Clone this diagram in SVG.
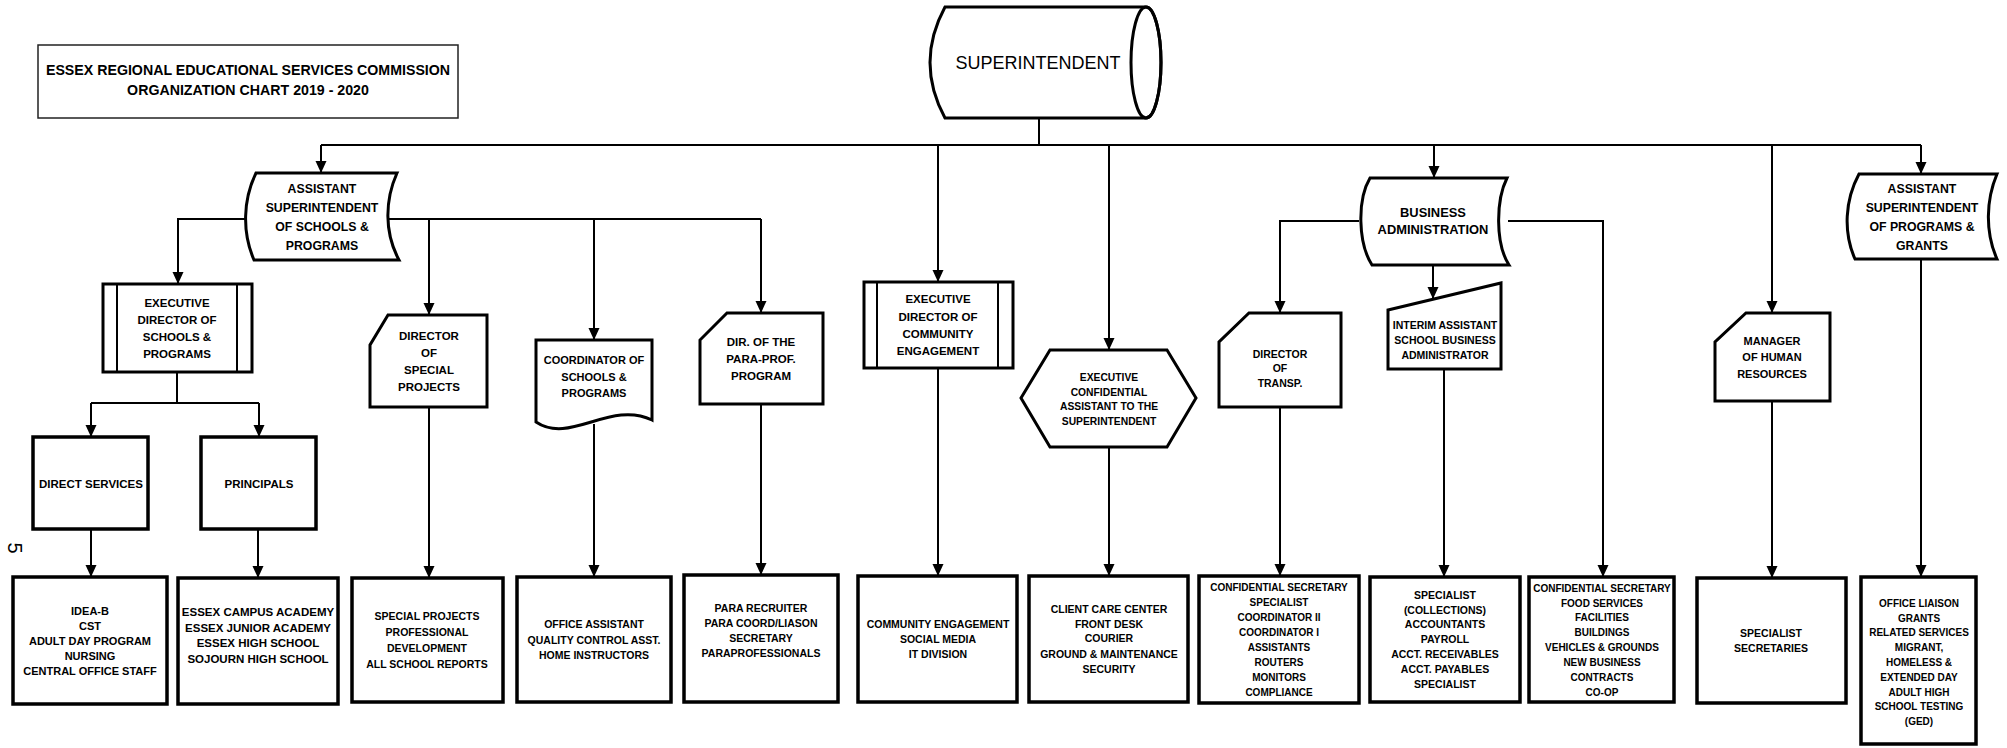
<svg xmlns="http://www.w3.org/2000/svg" width="2007" height="748" viewBox="0 0 2007 748">
<defs>
<marker id="ah" markerUnits="userSpaceOnUse" markerWidth="12" markerHeight="12" viewBox="0 0 12 12" refX="12" refY="6" orient="auto">
<path d="M0,0.5 L12,6 L0,11.5 Z" fill="#000"/>
</marker>
<style>
.bg{fill:#fff}
.box{fill:#fff;stroke:#000;stroke-width:3.5}
.shp{fill:#fff;stroke:#000;stroke-width:3}
.thin{fill:none;stroke:#000;stroke-width:2}
.conn{fill:none;stroke:#000;stroke-width:2}
.arr{marker-end:url(#ah)}
.t{font-family:"Liberation Sans",Arial,sans-serif;font-weight:bold;text-anchor:middle;fill:#000}
.s10{font-size:10px}
.s103{font-size:10.3px}
.s105{font-size:10.5px}
.s11{font-size:11px}
.s115{font-size:11.5px}
.s12{font-size:12.3px}
.s13{font-size:12.9px}
</style>
</defs>
<rect class="bg" x="0" y="0" width="2007" height="748"/>

<g id="title">
<rect x="38" y="45" width="420" height="73" fill="#fff" stroke="#222" stroke-width="1.5"/>
<text class="t" x="248" y="75" style="font-size:14.2px">ESSEX REGIONAL EDUCATIONAL SERVICES COMMISSION</text>
<text class="t" x="248" y="95" style="font-size:14.2px">ORGANIZATION CHART 2019 - 2020</text>
</g>

<g id="page-number">
<text x="14" y="548" transform="rotate(90 14 548)" style="font-family:'Liberation Sans',Arial,sans-serif;font-size:20px;text-anchor:middle" dy="6">5</text>
</g>

<g id="connectors">
<path class="conn" d="M1039,118 V145"/>
<path class="conn" d="M321,145 H1921"/>
<path class="conn arr" d="M321,145 V173"/>
<path class="conn arr" d="M938,145 V282"/>
<path class="conn arr" d="M1109,145 V350"/>
<path class="conn arr" d="M1434,145 V178"/>
<path class="conn arr" d="M1772,145 V313"/>
<path class="conn arr" d="M1921,145 V174"/>
<path class="conn arr" d="M246,219 H178 V284"/>
<path class="conn" d="M389,219 H761"/>
<path class="conn arr" d="M429,219 V315"/>
<path class="conn arr" d="M594,219 V340"/>
<path class="conn arr" d="M761,219 V313"/>
<path class="conn" d="M177,372 V403 M91,403 H259"/>
<path class="conn arr" d="M91,403 V437"/>
<path class="conn arr" d="M259,403 V437"/>
<path class="conn arr" d="M91,529 V577"/>
<path class="conn arr" d="M258,529 V578"/>
<path class="conn arr" d="M429,407 V578"/>
<path class="conn arr" d="M594,424 V577"/>
<path class="conn arr" d="M761,404 V575"/>
<path class="conn arr" d="M938,368 V576"/>
<path class="conn arr" d="M1109,447 V576"/>
<path class="conn arr" d="M1359,221 H1280 V313"/>
<path class="conn arr" d="M1508,221 H1603 V577"/>
<path class="conn arr" d="M1433,265 V299"/>
<path class="conn arr" d="M1280,407 V576"/>
<path class="conn arr" d="M1444,369 V577"/>
<path class="conn arr" d="M1772,401 V578"/>
<path class="conn arr" d="M1921,259 V577"/>
</g>

<g id="superintendent">
<path class="shp" d="M945,7 H1146 A15,55.5 0 0 1 1146,118 H945 Q915,62.5 945,7 Z"/>
<ellipse cx="1146" cy="62.5" rx="15" ry="55.5" fill="none" stroke="#000" stroke-width="3"/>
<text x="1038" y="69" style="font-family:'Liberation Sans',Arial,sans-serif;font-size:18px;text-anchor:middle">SUPERINTENDENT</text>
</g>

<g id="asst-supt-schools">
<path class="shp" d="M256,173 H397 C385,200 384,232 399,260 H254 C242,232 243,200 256,173 Z"/>
<text class="t s12" x="322" y="192.5">ASSISTANT</text>
<text class="t s12" x="322" y="211.5">SUPERINTENDENT</text>
<text class="t s12" x="322" y="230.5">OF SCHOOLS &amp;</text>
<text class="t s12" x="322" y="249.5">PROGRAMS</text>
</g>

<g id="exec-dir-schools">
<rect class="shp" x="103" y="284" width="149" height="88"/>
<path class="thin" d="M117,284 V372 M237,284 V372"/>
<text class="t s115" x="177" y="307">EXECUTIVE</text>
<text class="t s115" x="177" y="324">DIRECTOR OF</text>
<text class="t s115" x="177" y="341">SCHOOLS &amp;</text>
<text class="t s115" x="177" y="358">PROGRAMS</text>
</g>

<g id="direct-services">
<rect class="box" x="33" y="437" width="115" height="92"/>
<text class="t s115" x="91" y="488">DIRECT SERVICES</text>
</g>

<g id="principals">
<rect class="box" x="201" y="437" width="115" height="92"/>
<text class="t s115" x="259" y="488">PRINCIPALS</text>
</g>

<g id="direct-services-staff">
<rect class="box" x="13" y="577" width="154" height="127"/>
<text class="t s11" x="90" y="615">IDEA-B</text>
<text class="t s11" x="90" y="630">CST</text>
<text class="t s11" x="90" y="645">ADULT DAY PROGRAM</text>
<text class="t s11" x="90" y="660">NURSING</text>
<text class="t s11" x="90" y="675">CENTRAL OFFICE STAFF</text>
</g>

<g id="schools">
<rect class="box" x="178" y="578" width="160" height="126"/>
<text class="t s115" x="258" y="616">ESSEX CAMPUS ACADEMY</text>
<text class="t s115" x="258" y="631.5">ESSEX JUNIOR ACADEMY</text>
<text class="t s115" x="258" y="647">ESSEX HIGH SCHOOL</text>
<text class="t s115" x="258" y="662.5">SOJOURN HIGH SCHOOL</text>
</g>

<g id="dir-special-projects">
<path class="shp" d="M388,315 H487 V407 H370 V345 Z"/>
<text class="t s115" x="429" y="340">DIRECTOR</text>
<text class="t s115" x="429" y="357">OF</text>
<text class="t s115" x="429" y="374">SPECIAL</text>
<text class="t s115" x="429" y="391">PROJECTS</text>
</g>

<g id="special-projects-staff">
<rect class="box" x="352" y="578" width="151" height="124"/>
<text class="t s105" x="427" y="620">SPECIAL PROJECTS</text>
<text class="t s105" x="427" y="636">PROFESSIONAL</text>
<text class="t s105" x="427" y="652">DEVELOPMENT</text>
<text class="t s105" x="427" y="668">ALL SCHOOL REPORTS</text>
</g>

<g id="coordinator">
<path class="shp" d="M536,340 H652 V420 C610,400 570,445 536,422 Z"/>
<text class="t s11" x="594" y="364">COORDINATOR OF</text>
<text class="t s11" x="594" y="381">SCHOOLS &amp;</text>
<text class="t s11" x="594" y="397">PROGRAMS</text>
</g>

<g id="coordinator-staff">
<rect class="box" x="517" y="577" width="154" height="125"/>
<text class="t s105" x="594" y="628">OFFICE ASSISTANT</text>
<text class="t s105" x="594" y="644">QUALITY CONTROL ASST.</text>
<text class="t s105" x="594" y="659">HOME INSTRUCTORS</text>
</g>

<g id="dir-para-prof">
<path class="shp" d="M727,313 H823 V404 H700 V340 Z"/>
<text class="t s115" x="761" y="346">DIR. OF THE</text>
<text class="t s115" x="761" y="363">PARA-PROF.</text>
<text class="t s115" x="761" y="380">PROGRAM</text>
</g>

<g id="para-staff">
<rect class="box" x="684" y="575" width="154" height="127"/>
<text class="t s105" x="761" y="612">PARA RECRUITER</text>
<text class="t s105" x="761" y="627">PARA COORD/LIASON</text>
<text class="t s105" x="761" y="642">SECRETARY</text>
<text class="t s105" x="761" y="657">PARAPROFESSIONALS</text>
</g>

<g id="exec-dir-community">
<rect class="shp" x="864" y="282" width="149" height="86"/>
<path class="thin" d="M877,282 V368 M998,282 V368"/>
<text class="t s115" x="938" y="303">EXECUTIVE</text>
<text class="t s115" x="938" y="321">DIRECTOR OF</text>
<text class="t s115" x="938" y="338">COMMUNITY</text>
<text class="t s115" x="938" y="355">ENGAGEMENT</text>
</g>

<g id="community-staff">
<rect class="box" x="858" y="576" width="159" height="126"/>
<text class="t s105" x="938" y="628">COMMUNITY ENGAGEMENT</text>
<text class="t s105" x="938" y="643">SOCIAL MEDIA</text>
<text class="t s105" x="938" y="658">IT DIVISION</text>
</g>

<g id="exec-conf-assistant">
<polygon class="shp" points="1050,350 1167,350 1196,398 1167,447 1050,447 1021,398"/>
<text class="t s103" x="1109" y="381">EXECUTIVE</text>
<text class="t s103" x="1109" y="396">CONFIDENTIAL</text>
<text class="t s103" x="1109" y="410">ASSISTANT TO THE</text>
<text class="t s103" x="1109" y="425">SUPERINTENDENT</text>
</g>

<g id="client-care-staff">
<rect class="box" x="1029" y="576" width="159" height="126"/>
<text class="t s105" x="1109" y="613">CLIENT CARE CENTER</text>
<text class="t s105" x="1109" y="628">FRONT DESK</text>
<text class="t s105" x="1109" y="642">COURIER</text>
<text class="t s105" x="1109" y="658">GROUND &amp; MAINTENANCE</text>
<text class="t s105" x="1109" y="673">SECURITY</text>
</g>

<g id="business-admin">
<path class="shp" d="M1370,178 H1507 C1496,200 1495,243 1509,265 H1372 C1358,243 1357,200 1370,178 Z"/>
<text class="t s13" x="1433" y="217">BUSINESS</text>
<text class="t s13" x="1433" y="234">ADMINISTRATION</text>
</g>

<g id="dir-transp">
<path class="shp" d="M1249,313 H1341 V407 H1219 V342 Z"/>
<text class="t s105" x="1280" y="358">DIRECTOR</text>
<text class="t s105" x="1280" y="372">OF</text>
<text class="t s105" x="1280" y="387">TRANSP.</text>
</g>

<g id="transp-staff">
<rect class="box" x="1199" y="576" width="160" height="127"/>
<text class="t s10" x="1279" y="591">CONFIDENTIAL SECRETARY</text>
<text class="t s10" x="1279" y="606">SPECIALIST</text>
<text class="t s10" x="1279" y="621">COORDINATOR II</text>
<text class="t s10" x="1279" y="636">COORDINATOR I</text>
<text class="t s10" x="1279" y="651">ASSISTANTS</text>
<text class="t s10" x="1279" y="666">ROUTERS</text>
<text class="t s10" x="1279" y="681">MONITORS</text>
<text class="t s10" x="1279" y="696">COMPLIANCE</text>
</g>

<g id="interim-asba">
<path class="shp" d="M1388,310 L1501,283 V369 H1388 Z"/>
<text class="t s105" x="1445" y="329">INTERIM ASSISTANT</text>
<text class="t s105" x="1445" y="344">SCHOOL BUSINESS</text>
<text class="t s105" x="1445" y="359">ADMINISTRATOR</text>
</g>

<g id="accounting-staff">
<rect class="box" x="1370" y="577" width="150" height="125"/>
<text class="t s105" x="1445" y="599">SPECIALIST</text>
<text class="t s105" x="1445" y="614">(COLLECTIONS)</text>
<text class="t s105" x="1445" y="628">ACCOUNTANTS</text>
<text class="t s105" x="1445" y="643">PAYROLL</text>
<text class="t s105" x="1445" y="658">ACCT. RECEIVABLES</text>
<text class="t s105" x="1445" y="673">ACCT. PAYABLES</text>
<text class="t s105" x="1445" y="688">SPECIALIST</text>
</g>

<g id="facilities-staff">
<rect class="box" x="1529" y="577" width="145" height="125"/>
<text class="t s10" x="1602" y="592">CONFIDENTIAL SECRETARY</text>
<text class="t s10" x="1602" y="607">FOOD SERVICES</text>
<text class="t s10" x="1602" y="621">FACILITIES</text>
<text class="t s10" x="1602" y="636">BUILDINGS</text>
<text class="t s10" x="1602" y="651">VEHICLES &amp; GROUNDS</text>
<text class="t s10" x="1602" y="666">NEW BUSINESS</text>
<text class="t s10" x="1602" y="681">CONTRACTS</text>
<text class="t s10" x="1602" y="696">CO-OP</text>
</g>

<g id="manager-hr">
<path class="shp" d="M1746,313 H1830 V401 H1715 V342 Z"/>
<text class="t s11" x="1772" y="345">MANAGER</text>
<text class="t s11" x="1772" y="361">OF HUMAN</text>
<text class="t s11" x="1772" y="378">RESOURCES</text>
</g>

<g id="hr-staff">
<rect class="box" x="1697" y="578" width="149" height="125"/>
<text class="t s105" x="1771" y="637">SPECIALIST</text>
<text class="t s105" x="1771" y="652">SECRETARIES</text>
</g>

<g id="asst-supt-programs">
<path class="shp" d="M1859,174 H1997 C1986,200 1985,232 1997,259 H1855 C1843,232 1845,200 1859,174 Z"/>
<text class="t s12" x="1922" y="192.5">ASSISTANT</text>
<text class="t s12" x="1922" y="211.5">SUPERINTENDENT</text>
<text class="t s12" x="1922" y="230.5">OF PROGRAMS &amp;</text>
<text class="t s12" x="1922" y="249.5">GRANTS</text>
</g>

<g id="programs-staff">
<rect class="box" x="1861" y="577" width="115" height="167"/>
<text class="t s10" x="1919" y="607">OFFICE LIAISON</text>
<text class="t s10" x="1919" y="622">GRANTS</text>
<text class="t s10" x="1919" y="636">RELATED SERVICES</text>
<text class="t s10" x="1919" y="651">MIGRANT,</text>
<text class="t s10" x="1919" y="666">HOMELESS &amp;</text>
<text class="t s10" x="1919" y="681">EXTENDED DAY</text>
<text class="t s10" x="1919" y="696">ADULT HIGH</text>
<text class="t s10" x="1919" y="710">SCHOOL TESTING</text>
<text class="t s10" x="1919" y="725">(GED)</text>
</g>
</svg>
